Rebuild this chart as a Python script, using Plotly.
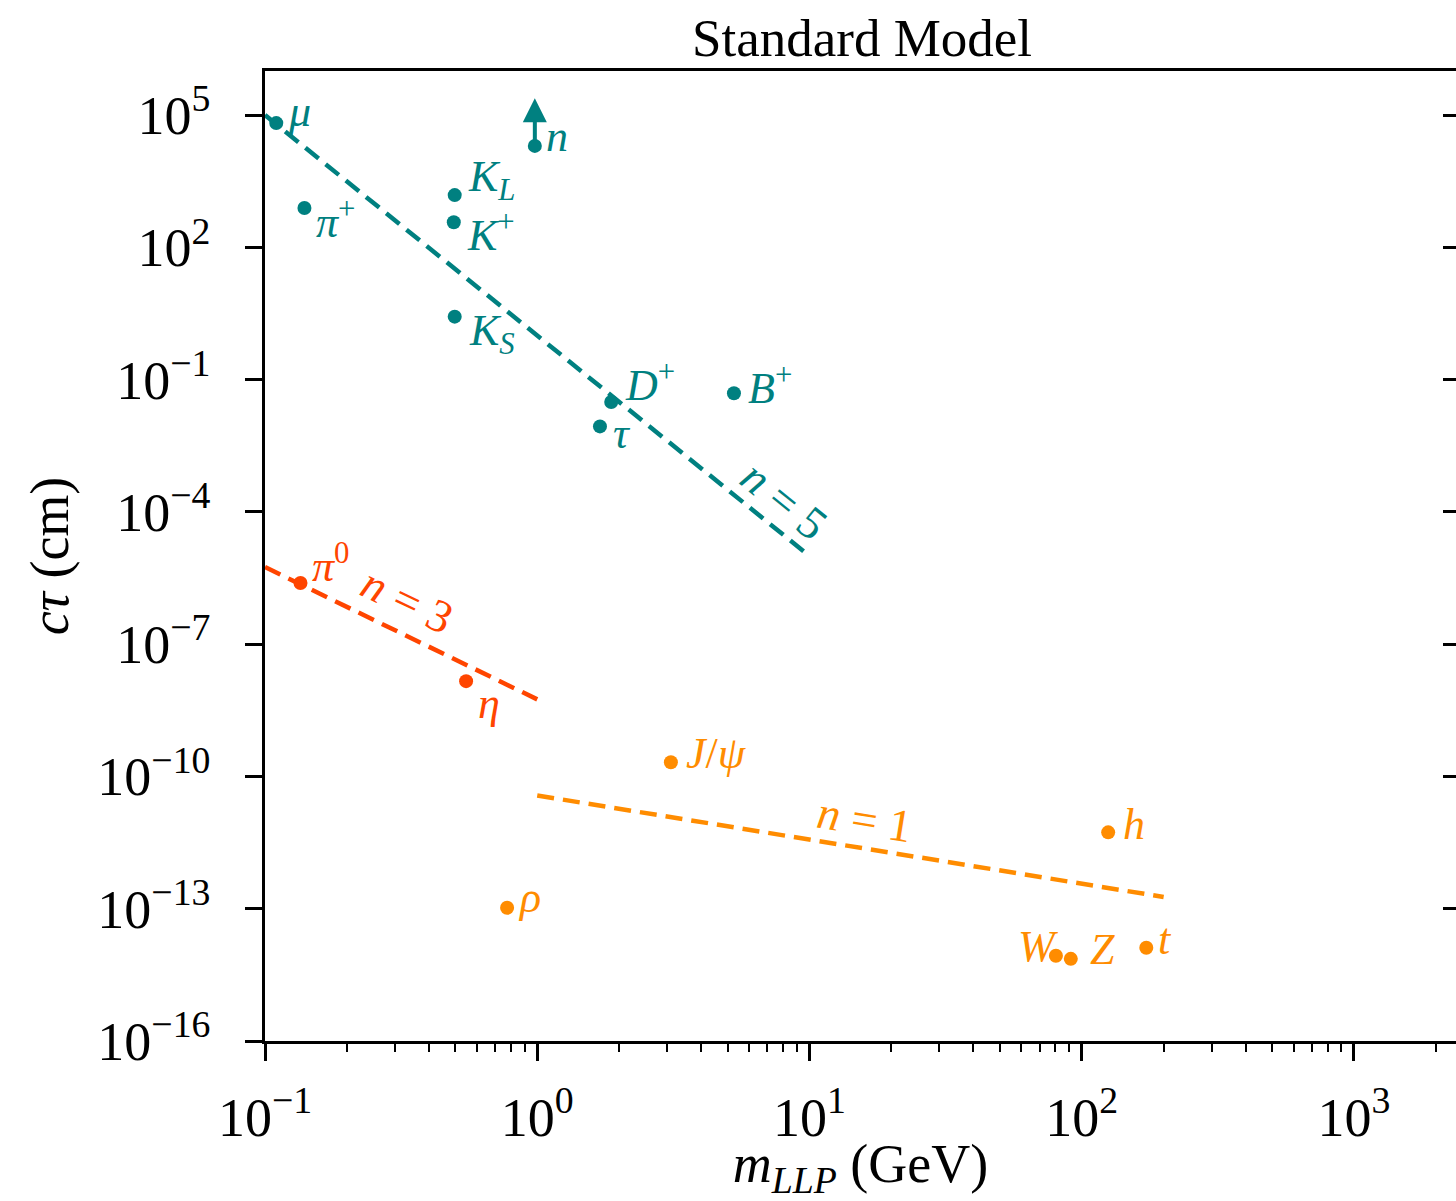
import plotly.graph_objects as go
import math

# ---------------- data ----------------
teal_names = ["μ", "π+", "KL", "K+", "KS", "n", "D+", "τ", "B+"]
teal_mass = [0.11, 0.1396, 0.4976, 0.4937, 0.4976, 0.98, 1.8697, 1.70, 5.279]
teal_ctau = [6.59e4, 780.0, 1534.0, 371.0, 2.68, 2.0e4, 0.0312, 0.0087, 0.0491]
teal_labels = ["<i>μ</i>", "<i>π</i><sup>+</sup>", "<i>K</i><sub><i>L</i></sub>",
               "<i>K</i><sup>+</sup>", "<i>K</i><sub><i>S</i></sub>", "<i>n</i>",
               "<i>D</i><sup>+</sup>", "<i>τ</i>", "<i>B</i><sup>+</sup>"]

red_names = ["π0", "η"]
red_mass = [0.135, 0.5479]
red_ctau = [2.45e-6, 1.45e-8]
red_labels = ["<i>π</i><sup>0</sup>", "<i>η</i>"]

orange_names = ["J/ψ", "ρ", "h", "W", "Z", "t"]
orange_mass = [3.097, 0.775, 125.1, 80.4, 91.19, 172.7]
orange_ctau = [2.1e-10, 1.05e-13, 5.4e-12, 8.6e-15, 7.3e-15, 1.3e-14]
orange_labels = ["<i>J</i>/<i>ψ</i>", "<i>ρ</i>", "<i>h</i>", "<i>W</i>", "<i>Z</i>", "<i>t</i>"]

# power-law reference lines (end points)
n5_x = [0.1, 10.0]
n5_y = [1.0e5, 1.0e-5]
n3_x = [0.1, 1.0]
n3_y = [5.6e-6, 5.6e-9]
n1_x = [1.0, 200.0]
n1_y = [3.7e-11, 1.85e-13]

n_arrow_top = 2.4e5

x_tickvals = [0.1, 1, 10, 100, 1000]
x_ticktext = ["10<sup>−1</sup>", "10<sup>0</sup>", "10<sup>1</sup>", "10<sup>2</sup>", "10<sup>3</sup>"]
y_tickvals = [1e-16, 1e-13, 1e-10, 1e-7, 1e-4, 1e-1, 1e2, 1e5]
y_ticktext = ["10<sup>−16</sup>", "10<sup>−13</sup>", "10<sup>−10</sup>", "10<sup>−7</sup>",
              "10<sup>−4</sup>", "10<sup>−1</sup>", "10<sup>2</sup>", "10<sup>5</sup>"]

# ---------------- style ----------------
TEAL = "#008080"
RED = "#FF4500"
ORANGE = "#FF8C00"
FONT = "Liberation Serif"
LABEL_SIZE = 44
TICK_SIZE = 54

# label offsets (px): (xshift, yshift, xanchor)
teal_off = [(10, 12, "left"), (10, -11, "left"), (11, 16, "left"), (11, -10, "left"),
            (12, -17, "left"), (9, 9, "left"), (12, 19, "left"), (11, -7, "left"), (12, 8, "left")]
red_off = [(10, 19, "left"), (10, -22, "left")]
orange_off = [(13, 9, "left"), (9, 10, "left"), (13, 8, "left"), (4, 9, "right"),
              (17, 9, "left"), (10, 8, "left")]

fig = go.Figure()

dash = "17px,9px"
for xs, ys, col in [(n5_x, n5_y, TEAL), (n3_x, n3_y, RED), (n1_x, n1_y, ORANGE)]:
    fig.add_trace(go.Scatter(x=xs, y=ys, mode="lines",
                             line=dict(color=col, width=4.5, dash=dash),
                             hoverinfo="skip", showlegend=False))

for xs, ys, col in [(teal_mass, teal_ctau, TEAL), (red_mass, red_ctau, RED),
                    (orange_mass, orange_ctau, ORANGE)]:
    fig.add_trace(go.Scatter(x=xs, y=ys, mode="markers",
                             marker=dict(color=col, size=14, line=dict(width=0)),
                             showlegend=False))

# empty trace for right-side tick axis
fig.add_trace(go.Scatter(x=[], y=[], yaxis="y2", showlegend=False))

annotations = []
for masses, ctaus, labels, offs, col in [
    (teal_mass, teal_ctau, teal_labels, teal_off, TEAL),
    (red_mass, red_ctau, red_labels, red_off, RED),
    (orange_mass, orange_ctau, orange_labels, orange_off, ORANGE),
]:
    for m, c, lab, (dx, dy, xa) in zip(masses, ctaus, labels, offs):
        annotations.append(dict(x=math.log10(m), y=math.log10(c), xref="x", yref="y",
                                text=lab, showarrow=False, xanchor=xa, yanchor="middle",
                                xshift=dx, yshift=dy,
                                font=dict(family=FONT, size=LABEL_SIZE, color=col)))

# neutron lower-limit arrow
n_idx = teal_names.index("n")
annotations.append(dict(x=math.log10(teal_mass[n_idx]), y=math.log10(n_arrow_top),
                        xref="x", yref="y", axref="x", ayref="y",
                        ax=math.log10(teal_mass[n_idx]), ay=math.log10(teal_ctau[n_idx]),
                        text="", showarrow=True, arrowhead=2, arrowsize=1.2,
                        arrowwidth=4, arrowcolor=TEAL, standoff=0, startstandoff=0))

# line labels
line_labels = [
    (8.1, 10 ** -3.73, "<i>n</i> = 5", TEAL, 39),
    (0.333, 1.0e-6, "<i>n</i> = 3", RED, 25.5),
    (15.9, 10 ** -10.98, "<i>n</i> = 1", ORANGE, 9.2),
]
for lx, ly, txt, col, ang in line_labels:
    annotations.append(dict(x=math.log10(lx), y=math.log10(ly), xref="x", yref="y",
                            text=txt, showarrow=False, textangle=ang,
                            xanchor="center", yanchor="middle",
                            font=dict(family=FONT, size=LABEL_SIZE + 2, color=col)))

minor_vals = [k * 10 ** d for d in range(-1, 4) for k in range(2, 10) if k * 10 ** d < 2400]

W, H = 1456, 1201
fig.update_layout(
    width=W, height=H,
    margin=dict(l=265, r=0, t=71, b=160, pad=0),
    paper_bgcolor="white", plot_bgcolor="white",
    font=dict(family=FONT, size=52, color="black"),
    title=dict(text="Standard Model", x=862 / W, xref="container", xanchor="center",
               y=1 - 37 / H, yref="container", yanchor="middle",
               font=dict(family=FONT, size=53, color="black")),
    annotations=annotations,
    showlegend=False,
    xaxis=dict(type="log", range=[-1, math.log10(2371)],
               showline=True, linecolor="black", linewidth=2.5, mirror=True,
               ticks="outside", ticklen=17, tickwidth=2.5, tickcolor="black",
               tickvals=x_tickvals, ticktext=x_ticktext, ticklabelstandoff=10,
               tickfont=dict(family=FONT, size=TICK_SIZE, color="black"),
               showgrid=False, zeroline=False,
               minor=dict(tickvals=minor_vals, ticks="outside", ticklen=8,
                          tickwidth=2, tickcolor="black", showgrid=False),
               title=dict(text="<i>m</i><sub><i>LLP</i></sub> (GeV)", standoff=12,
                          font=dict(family=FONT, size=54, color="black"))),
    yaxis=dict(type="log", range=[-16, 6],
               showline=True, linecolor="black", linewidth=2.5, mirror=False,
               ticks="outside", ticklen=17, tickwidth=2.5, tickcolor="black",
               tickvals=y_tickvals, ticktext=y_ticktext, ticklabelstandoff=24,
               tickfont=dict(family=FONT, size=TICK_SIZE, color="black"),
               showgrid=False, zeroline=False,
               title=dict(text="<i>cτ</i> (cm)", standoff=12,
                          font=dict(family=FONT, size=54, color="black"))),
    yaxis2=dict(type="log", range=[-16, 6], overlaying="y", side="right",
                showline=False, ticks="inside", ticklen=13, tickwidth=2.5,
                tickcolor="black", tickvals=y_tickvals, showticklabels=False,
                showgrid=False, zeroline=False),
)

fig.write_html("out.html")
